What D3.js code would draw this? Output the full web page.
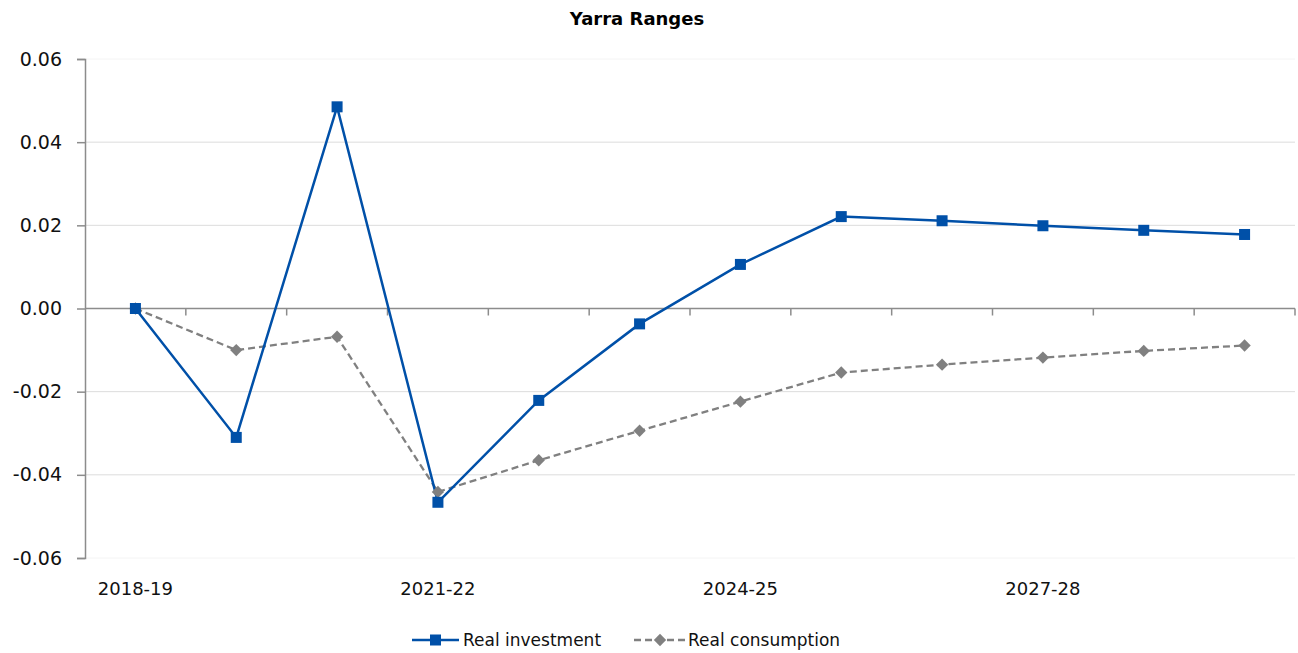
<!DOCTYPE html>
<html><head><meta charset="utf-8">
<script src="https://cdn.jsdelivr.net/npm/d3@7"></script>
<style>body{margin:0;background:#fff}svg{display:block}text{font-family:"DejaVu Sans",sans-serif}</style>
</head><body>
<svg id="c" width="1298" height="653"></svg>
<script>
const categories = ["2018-19","2019-20","2020-21","2021-22","2022-23","2023-24","2024-25","2025-26","2026-27","2027-28","2028-29","2029-30"];
const investment = [0, -0.031, 0.0485, -0.0466, -0.0221, -0.0037, 0.0106, 0.0221, 0.0211, 0.0199, 0.0188, 0.0178];
const consumption = [0, -0.0100, -0.0068, -0.0441, -0.0365, -0.0294, -0.0224, -0.0154, -0.0135, -0.0118, -0.0102, -0.0089];
const yTicks = [-0.06, -0.04, -0.02, 0, 0.02, 0.04, 0.06];
const labelCats = ["2018-19","2021-22","2024-25","2027-28"];

(function(){
const svg = d3.select("#c");
const mLeft = 85, mRight = 1295, mTop = 59, mBottom = 558;
const x = d3.scaleBand().domain(categories).range([mLeft, mRight]);
const y = d3.scaleLinear().domain([-0.06, 0.06]).range([mBottom, mTop]);
const cx = d => x(d) + x.bandwidth() / 2;
const blue = "#0050a8", grey = "#808080";

// gridlines
svg.append("g").selectAll("line").data(yTicks.filter(t => t !== 0)).join("line")
  .attr("x1", mLeft).attr("x2", mRight).attr("y1", d => y(d)).attr("y2", d => y(d))
  .attr("stroke", d => Math.abs(d) > 0.05 ? "#f4f4f4" : "#dcdcdc").attr("stroke-width", 1);

// y axis
const ya = svg.append("g").attr("transform", `translate(${mLeft},0)`)
  .call(d3.axisLeft(y).tickValues(yTicks).tickFormat(d3.format(".2f")).tickSize(8).tickPadding(15));
ya.select(".domain").attr("stroke", "#8c8c8c").attr("stroke-width", 1.5);
ya.selectAll(".tick line").attr("stroke", "#8c8c8c").attr("stroke-width", 1.5);
ya.selectAll(".tick text").attr("font-size", 19).attr("fill", "#111")
  .text(d => d < 0 ? "-" + Math.abs(d).toFixed(2) : d.toFixed(2));

// zero axis with ticks at band boundaries
const za = svg.append("g").attr("transform", `translate(0,${y(0)})`);
za.append("line").attr("x1", mLeft).attr("x2", mRight).attr("stroke", "#8c8c8c").attr("stroke-width", 1.5);
za.selectAll("line.t").data(categories).join("line").attr("class", "t")
  .attr("x1", d => x(d) + x.bandwidth()).attr("x2", d => x(d) + x.bandwidth())
  .attr("y1", 0).attr("y2", 7).attr("stroke", "#8c8c8c").attr("stroke-width", 1.5);

// category labels
svg.append("g").selectAll("text").data(labelCats).join("text")
  .attr("x", d => cx(d)).attr("y", 595).attr("text-anchor", "middle")
  .attr("font-size", 18).attr("fill", "#111").text(d => d);

// lines
const line = d3.line().x((d, i) => cx(categories[i])).y(d => y(d));
svg.append("path").datum(consumption).attr("d", line).attr("fill", "none")
  .attr("stroke", grey).attr("stroke-width", 2.3).attr("stroke-dasharray", "7,4");
svg.append("path").datum(investment).attr("d", line).attr("fill", "none")
  .attr("stroke", blue).attr("stroke-width", 2.5);

const diamond = d3.symbol().type(d3.symbolSquare).size(76);
svg.append("g").selectAll("path").data(consumption).join("path")
  .attr("d", diamond())
  .attr("transform", (d, i) => `translate(${cx(categories[i])},${y(d)}) rotate(45)`)
  .attr("fill", grey);
svg.append("g").selectAll("rect").data(investment).join("rect")
  .attr("x", (d, i) => cx(categories[i]) - 5.5).attr("y", d => y(d) - 5.5)
  .attr("width", 11).attr("height", 11).attr("fill", blue);

// title
svg.append("text").attr("x", 637).attr("y", 25).attr("text-anchor", "middle")
  .attr("font-size", 18).attr("font-weight", "bold").attr("fill", "#000").text("Yarra Ranges");

// legend
const lg = svg.append("g").attr("transform", "translate(0,640)");
lg.append("line").attr("x1", 412).attr("x2", 459).attr("stroke", blue).attr("stroke-width", 2.5);
lg.append("rect").attr("x", 430).attr("y", -5.5).attr("width", 11).attr("height", 11).attr("fill", blue);
lg.append("text").attr("x", 463).attr("y", 6).attr("font-size", 17).attr("fill", "#111").text("Real investment");
lg.append("line").attr("x1", 634).attr("x2", 685).attr("stroke", grey).attr("stroke-width", 2.3).attr("stroke-dasharray", "7,4");
lg.append("path").attr("d", diamond()).attr("transform", "translate(660,0) rotate(45)").attr("fill", grey);
lg.append("text").attr("x", 688).attr("y", 6).attr("font-size", 17).attr("fill", "#111").text("Real consumption");
})();
</script>
</body></html>
